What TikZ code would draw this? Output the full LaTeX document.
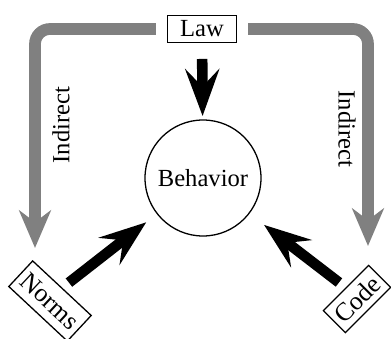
\documentclass[tikz,border=0pt]{standalone}
\usepackage{fontspec}
\setmainfont{Liberation Serif}
\usetikzlibrary{arrows.meta}

\begin{document}
\begin{tikzpicture}[x=0.03cm, y=-0.03cm,
  every node/.style={font=\fontsize{21}{24}\selectfont},
  lawbox/.style={draw, line width=1.1pt, minimum width=2.07cm, minimum height=0.8cm, inner sep=1pt},
  tiltbox/.style={draw, line width=1.1pt, inner sep=1pt, font=\fontsize{22}{24}\selectfont},
  push/.style={line width=9pt, -{Stealth[length=40pt, width=29pt, inset=15pt]}},
  indirect/.style={line width=10pt, black!50, rounded corners=0.45cm, -{Stealth[length=32pt, width=27pt, inset=10pt]}}]
  \useasboundingbox (0,0) rectangle (391,339);
  % the four actors
  \node[lawbox] (law) at (202,29) {Law};
  \node[circle, draw, line width=1.1pt, minimum size=3.48cm] (behavior) at (203,178) {Behavior};
  \node[tiltbox, rotate=-43, minimum width=2.4cm, minimum height=1.05cm] (norms) at (50,301) {Norms};
  \node[tiltbox, rotate=45, minimum width=1.92cm, minimum height=0.93cm] (code) at (357,299) {Code};
  \node[rotate=90] (indL) at (61,125) {Indirect};
  \node[rotate=-90] (indR) at (347,129) {Indirect};
  \coordinate (normsIn) at (35,248);
  \coordinate (codeIn) at (368,246);
  % direct arrows
  \draw[push, shorten <=0.48cm, shorten >=0.1cm] (law) -- (behavior);
  \draw[push, shorten <=0.25cm, shorten >=0.4cm] (norms.north) -- (behavior);
  \draw[push, shorten <=0.25cm, shorten >=0.55cm] (code.north) -- (behavior);
  % indirect routes
  \draw[indirect, shorten <=0.33cm] (law.west) -| (normsIn);
  \draw[indirect, shorten <=0.33cm] (law.east) -| (codeIn);
\end{tikzpicture}
\end{document}
